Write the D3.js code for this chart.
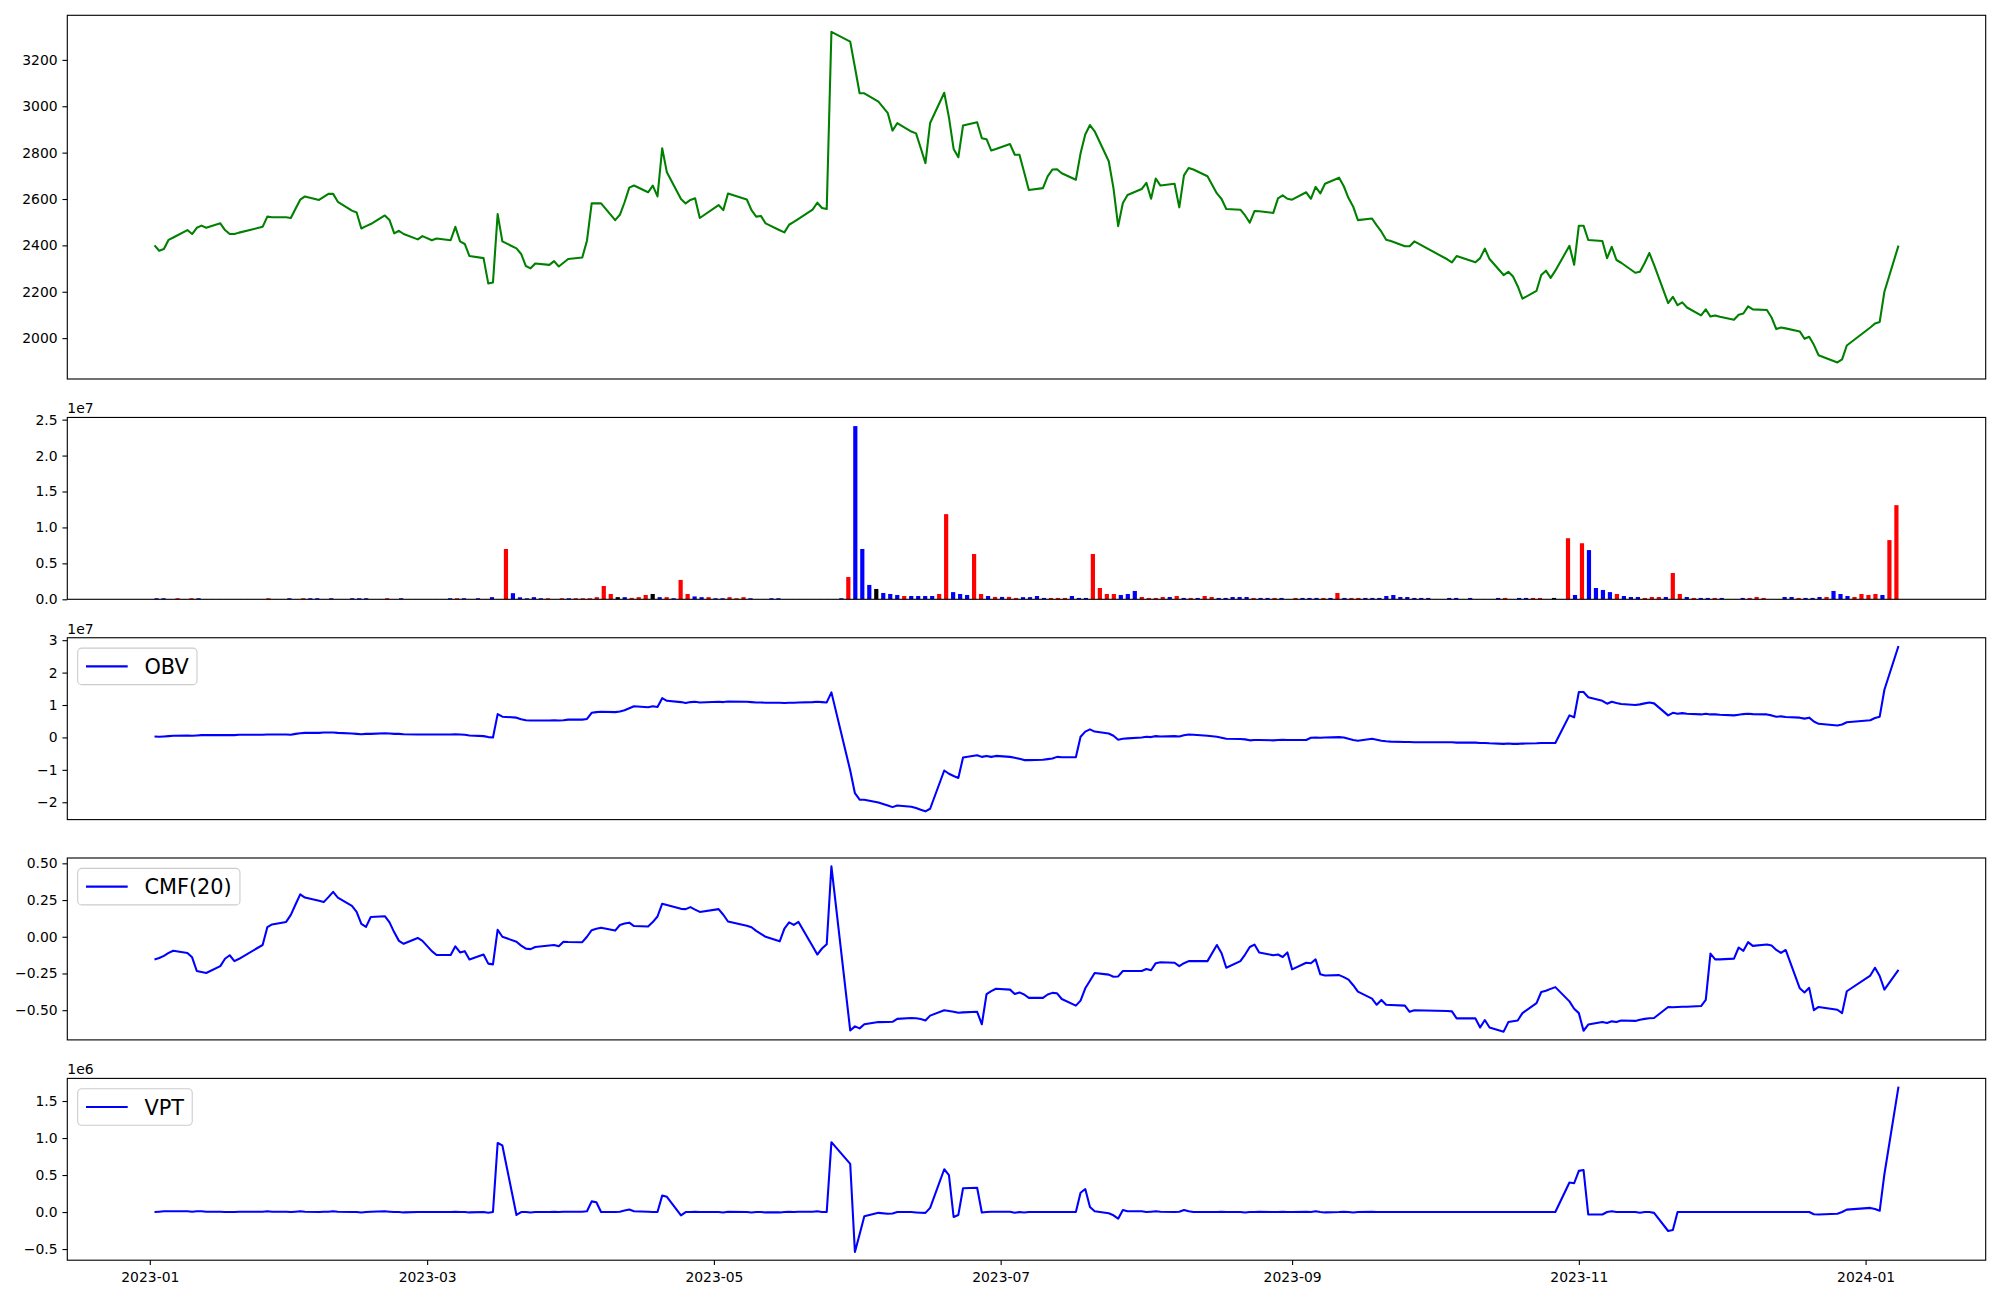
<!DOCTYPE html>
<html><head><meta charset="utf-8">
<script src="https://cdn.jsdelivr.net/npm/d3@7"></script>
<style>body{margin:0;background:#fff}svg{display:block}text{font-family:"DejaVu Sans",sans-serif}</style>
</head><body><svg id="chart" width="2000" height="1300"></svg>
<script>
// ---------------- DATA ----------------
const dates = [
"2023-01-02","2023-01-03","2023-01-04","2023-01-05","2023-01-06","2023-01-09","2023-01-10","2023-01-11","2023-01-12","2023-01-13","2023-01-16","2023-01-17","2023-01-18","2023-01-19","2023-01-20","2023-01-25","2023-01-26","2023-01-27","2023-01-30","2023-01-31",
"2023-02-01","2023-02-02","2023-02-03","2023-02-06","2023-02-07","2023-02-08","2023-02-09","2023-02-10","2023-02-13","2023-02-14","2023-02-15","2023-02-16","2023-02-17","2023-02-20","2023-02-21","2023-02-22","2023-02-23","2023-02-24","2023-02-27","2023-02-28",
"2023-03-02","2023-03-03","2023-03-06","2023-03-07","2023-03-08","2023-03-09","2023-03-10","2023-03-13","2023-03-14","2023-03-15","2023-03-16","2023-03-17","2023-03-20","2023-03-21","2023-03-22","2023-03-23","2023-03-24","2023-03-27","2023-03-28","2023-03-29","2023-03-30","2023-03-31",
"2023-04-03","2023-04-04","2023-04-05","2023-04-06","2023-04-07","2023-04-10","2023-04-11","2023-04-12","2023-04-13","2023-04-14","2023-04-17","2023-04-18","2023-04-19","2023-04-20","2023-04-21","2023-04-24","2023-04-25","2023-04-26","2023-04-27","2023-04-28",
"2023-05-02","2023-05-03","2023-05-04","2023-05-08","2023-05-09","2023-05-10","2023-05-11","2023-05-12","2023-05-15","2023-05-16","2023-05-17","2023-05-18","2023-05-19","2023-05-22","2023-05-23","2023-05-24","2023-05-25","2023-05-26","2023-05-30","2023-05-31",
"2023-06-01","2023-06-02","2023-06-05","2023-06-07","2023-06-08","2023-06-09","2023-06-12","2023-06-13","2023-06-14","2023-06-15","2023-06-16","2023-06-19","2023-06-20","2023-06-21","2023-06-22","2023-06-23","2023-06-26","2023-06-27","2023-06-28","2023-06-29","2023-06-30",
"2023-07-03","2023-07-04","2023-07-05","2023-07-06","2023-07-07","2023-07-10","2023-07-11","2023-07-12","2023-07-13","2023-07-14","2023-07-17","2023-07-18","2023-07-19","2023-07-20","2023-07-21","2023-07-24","2023-07-25","2023-07-26","2023-07-27","2023-07-28","2023-07-31",
"2023-08-01","2023-08-02","2023-08-03","2023-08-04","2023-08-07","2023-08-08","2023-08-09","2023-08-10","2023-08-11","2023-08-14","2023-08-16","2023-08-17","2023-08-18","2023-08-21","2023-08-22","2023-08-23","2023-08-24","2023-08-25","2023-08-28","2023-08-29","2023-08-30","2023-08-31",
"2023-09-01","2023-09-04","2023-09-05","2023-09-06","2023-09-07","2023-09-08","2023-09-11","2023-09-12","2023-09-13","2023-09-14","2023-09-15","2023-09-18","2023-09-19","2023-09-20","2023-09-21","2023-09-22","2023-09-25","2023-09-26","2023-09-27",
"2023-10-04","2023-10-05","2023-10-06","2023-10-10","2023-10-11","2023-10-12","2023-10-13","2023-10-16","2023-10-17","2023-10-18","2023-10-19","2023-10-20","2023-10-23","2023-10-24","2023-10-25","2023-10-26","2023-10-27","2023-10-30","2023-10-31",
"2023-11-01","2023-11-02","2023-11-03","2023-11-06","2023-11-07","2023-11-08","2023-11-09","2023-11-10","2023-11-13","2023-11-14","2023-11-15","2023-11-16","2023-11-17","2023-11-20","2023-11-21","2023-11-22","2023-11-23","2023-11-24","2023-11-27","2023-11-28","2023-11-29","2023-11-30",
"2023-12-01","2023-12-04","2023-12-05","2023-12-06","2023-12-07","2023-12-08","2023-12-11","2023-12-12","2023-12-13","2023-12-14","2023-12-15","2023-12-18","2023-12-19","2023-12-20","2023-12-21","2023-12-22","2023-12-26","2023-12-27","2023-12-28",
"2024-01-02","2024-01-03","2024-01-04","2024-01-05","2024-01-08"];

const closePrice = [
2400,2377,2384,2424,2434,2466,2449,2476,2485,2476,2495,2466,2449,2449,2455,2480,2524,2521,2521,2518,
2558,2597,2611,2596,2609,2622,2622,2588,2550,2542,2473,2483,2492,2529,2509,2452,2463,2449,2426,2440,
2422,2430,2422,2480,2417,2406,2354,2345,2236,2240,2535,2417,2387,2363,2311,2301,2322,2316,2332,2309,2325,2341,
2348,2420,2581,2581,2581,2509,2532,2586,2649,2658,2629,2658,2611,2819,2715,2600,2581,2596,2603,2518,
2574,2552,2624,2598,2552,2524,2527,2495,2465,2456,2489,2501,2514,2554,2584,2561,2557,3321,3279,3168,
3056,3056,3020,2970,2895,2927,2891,2883,2820,2755,2928,3058,2952,2816,2780,2917,2931,2862,2858,2809,2816,
2837,2791,2791,2715,2639,2647,2698,2727,2728,2711,2683,2797,2878,2919,2892,2763,2647,2483,2583,2617,2643,
2670,2601,2688,2658,2666,2564,2702,2734,2727,2698,2624,2600,2557,2554,2529,2498,2548,2547,2540,2603,2616,2601,
2597,2629,2601,2652,2624,2666,2692,2655,2604,2567,2509,2516,2486,2459,2424,2419,2396,2396,2417,
2340,2327,2354,2327,2345,2386,2341,2272,2286,2266,2224,2170,2204,2272,2291,2260,2291,2398,2316,
2485,2485,2423,2419,2345,2394,2337,2325,2282,2286,2324,2367,2316,2151,2178,2142,2154,2132,2098,2124,2093,2098,
2092,2079,2101,2106,2137,2124,2121,2089,2039,2046,2042,2029,1997,2006,1971,1926,1895,1908,1968,
2046,2063,2070,2200,2399];

const volumeMillions = [
0.15,0.15,0.02,0.15,0.02,0.15,0.15,0.02,0.02,0.02,0.02,0.02,0.02,0.02,0.02,0.02,0.15,0.02,0.02,0.15,
0.02,0.15,0.15,0.15,0.02,0.15,0.02,0.02,0.15,0.15,0.15,0.02,0.02,0.15,0.02,0.15,0.02,0.02,0.02,0.02,
0.02,0.02,0.15,0.15,0.15,0.02,0.15,0.02,0.3,0.02,7.0,0.85,0.28,0.14,0.3,0.15,0.15,0.02,0.15,0.15,0.15,0.15,
0.15,0.3,1.85,0.74,0.3,0.3,0.2,0.3,0.6,0.74,0.3,0.3,0.15,2.7,0.74,0.4,0.3,0.3,0.15,0.15,
0.3,0.15,0.3,0.15,0.02,0.02,0.15,0.15,0.02,0.02,0.02,0.02,0.02,0.02,0.02,0.02,0.15,3.1,24.1,7.0,
2.0,1.44,0.88,0.74,0.6,0.46,0.46,0.46,0.46,0.46,0.74,11.85,1.0,0.74,0.6,6.3,0.74,0.46,0.33,0.33,0.33,
0.19,0.3,0.3,0.46,0.19,0.19,0.19,0.19,0.46,0.19,0.19,6.3,1.57,0.74,0.74,0.6,0.74,1.16,0.32,0.19,0.19,
0.32,0.32,0.46,0.19,0.19,0.19,0.46,0.32,0.19,0.19,0.32,0.32,0.32,0.19,0.19,0.19,0.19,0.19,0.02,0.19,0.19,0.19,
0.19,0.19,0.19,0.88,0.19,0.19,0.19,0.19,0.19,0.19,0.46,0.6,0.32,0.32,0.19,0.19,0.19,0.02,0.02,
0.19,0.19,0.02,0.19,0.02,0.02,0.02,0.19,0.19,0.02,0.19,0.19,0.19,0.19,0.02,0.19,0.02,8.5,0.6,
7.8,6.85,1.57,1.3,1.0,0.74,0.46,0.32,0.32,0.19,0.32,0.32,0.32,3.66,0.74,0.32,0.19,0.19,0.19,0.19,0.19,0.02,
0.02,0.19,0.19,0.32,0.19,0.02,0.02,0.32,0.32,0.19,0.19,0.19,0.32,0.32,1.16,0.74,0.46,0.32,0.74,
0.6,0.74,0.6,8.24,13.1];

// 1 = up (red), -1 = down (blue), 0 = unchanged (black)
const barDirection = [
-1,-1,1,1,1,1,-1,1,1,1,1,1,1,1,1,1,1,1,1,-1,
1,1,-1,-1,1,-1,1,1,-1,-1,-1,1,1,1,1,-1,1,1,1,1,
1,1,-1,1,-1,1,-1,1,-1,1,1,-1,-1,-1,-1,-1,1,1,1,-1,1,1,
1,1,1,1,0,-1,1,1,1,0,-1,1,-1,1,1,-1,-1,1,-1,-1,
1,1,1,-1,1,1,-1,-1,1,1,1,1,1,1,1,1,-1,1,-1,-1,
-1,0,-1,-1,-1,1,-1,-1,-1,-1,1,1,-1,-1,-1,1,1,-1,1,-1,1,
1,-1,-1,-1,-1,1,1,1,-1,-1,-1,1,1,1,1,-1,-1,-1,1,1,1,
1,-1,1,-1,1,-1,1,1,-1,-1,-1,-1,-1,1,-1,-1,1,-1,1,1,-1,-1,
-1,1,-1,1,-1,1,1,-1,-1,-1,-1,-1,-1,-1,-1,-1,-1,1,1,
-1,-1,1,-1,1,1,1,-1,1,1,-1,-1,1,1,1,0,1,1,-1,
1,-1,-1,-1,-1,1,-1,-1,-1,1,1,1,-1,1,1,-1,1,-1,-1,1,-1,1,
1,-1,1,1,1,1,1,-1,-1,1,-1,-1,-1,1,-1,-1,-1,1,1,
1,1,-1,1,1];

const obvTenMillions = [
0.03,0.02,0.03,0.04,0.05,0.06,0.05,0.06,0.07,0.07,0.07,0.07,0.07,0.07,0.08,0.08,0.09,0.09,0.09,0.08,
0.11,0.13,0.14,0.14,0.15,0.15,0.15,0.14,0.12,0.11,0.10,0.11,0.11,0.13,0.12,0.11,0.11,0.10,0.09,0.09,
0.09,0.09,0.09,0.10,0.09,0.08,0.06,0.04,0.01,0.0,0.72,0.64,0.61,0.56,0.53,0.52,0.52,0.52,0.53,0.52,0.53,0.55,
0.55,0.57,0.76,0.78,0.79,0.78,0.80,0.84,0.90,0.96,0.93,0.96,0.94,1.21,1.13,1.09,1.06,1.09,1.10,1.08,
1.10,1.09,1.11,1.10,1.09,1.08,1.08,1.07,1.07,1.06,1.07,1.07,1.08,1.09,1.10,1.09,1.08,1.39,-1.02,-1.72,
-1.92,-1.92,-2.01,-2.10,-2.15,-2.10,-2.14,-2.18,-2.23,-2.28,-2.20,-1.02,-1.12,-1.19,-1.25,-0.62,-0.55,-0.60,-0.57,-0.60,-0.57,
-0.60,-0.63,-0.66,-0.70,-0.70,-0.69,-0.67,-0.65,-0.60,-0.61,-0.61,0.02,0.18,0.25,0.18,0.12,0.05,-0.07,-0.04,-0.03,0.0,
0.02,0.01,0.04,0.03,0.04,0.03,0.07,0.09,0.08,0.05,0.02,-0.01,-0.04,-0.05,-0.06,-0.09,-0.08,-0.08,-0.09,-0.08,-0.07,-0.08,
-0.08,-0.08,-0.01,0.0,-0.01,0.0,0.01,0.0,-0.04,-0.08,-0.10,-0.04,-0.07,-0.10,-0.12,-0.13,-0.14,-0.14,-0.15,
-0.15,-0.15,-0.16,-0.16,-0.17,-0.17,-0.18,-0.20,-0.19,-0.20,-0.20,-0.19,-0.18,-0.17,-0.17,-0.17,-0.17,0.68,0.62,
1.40,1.40,1.24,1.13,1.04,1.10,1.06,1.03,1.00,1.02,1.05,1.08,1.05,0.68,0.76,0.73,0.75,0.73,0.71,0.73,0.71,0.71,
0.70,0.68,0.70,0.72,0.73,0.72,0.71,0.68,0.64,0.65,0.63,0.61,0.58,0.61,0.49,0.42,0.37,0.40,0.47,
0.53,0.60,0.64,1.47,2.82];

const cmf20 = [
-0.155,-0.145,-0.13,-0.11,-0.095,-0.11,-0.14,-0.233,-0.24,-0.247,-0.20,-0.15,-0.126,-0.166,-0.15,-0.056,0.065,0.084,0.101,0.149,
0.22,0.289,0.267,0.245,0.236,0.27,0.306,0.267,0.21,0.17,0.087,0.067,0.135,0.14,0.098,0.03,-0.028,-0.048,-0.008,-0.028,
-0.098,-0.124,-0.124,-0.065,-0.107,-0.098,-0.155,-0.121,-0.183,-0.188,0.048,0.0,-0.034,-0.06,-0.081,-0.084,-0.07,-0.06,-0.056,-0.065,-0.034,-0.036,
-0.037,0.0,0.045,0.055,0.062,0.042,0.08,0.09,0.096,0.073,0.07,0.10,0.138,0.225,0.216,0.19,0.188,0.202,0.185,0.169,
0.188,0.15,0.104,0.075,0.065,0.04,0.02,0.0,-0.031,0.056,0.098,0.081,0.101,-0.065,-0.121,-0.08,-0.051,0.48,-0.638,-0.61,
-0.624,-0.596,-0.581,-0.58,-0.579,-0.559,-0.553,-0.555,-0.56,-0.57,-0.537,-0.50,-0.505,-0.51,-0.517,-0.515,-0.511,-0.596,-0.39,-0.37,-0.354,
-0.36,-0.39,-0.379,-0.393,-0.416,-0.416,-0.393,-0.382,-0.385,-0.424,-0.469,-0.435,-0.351,-0.30,-0.247,-0.258,-0.272,-0.27,-0.233,-0.233,-0.233,
-0.219,-0.228,-0.18,-0.174,-0.177,-0.20,-0.18,-0.166,-0.166,-0.166,-0.056,-0.112,-0.211,-0.166,-0.121,-0.07,-0.053,-0.107,-0.126,-0.121,-0.138,-0.107,
-0.222,-0.177,-0.18,-0.154,-0.256,-0.264,-0.261,-0.275,-0.292,-0.33,-0.374,-0.421,-0.463,-0.43,-0.463,-0.465,-0.469,-0.511,-0.50,
-0.505,-0.508,-0.556,-0.556,-0.618,-0.567,-0.618,-0.646,-0.581,-0.575,-0.57,-0.52,-0.452,-0.376,-0.368,-0.355,-0.343,-0.44,-0.49,
-0.52,-0.64,-0.598,-0.581,-0.587,-0.576,-0.581,-0.57,-0.573,-0.565,-0.559,-0.555,-0.553,-0.478,-0.48,-0.478,-0.477,-0.476,-0.472,-0.43,-0.115,-0.154,
-0.154,-0.149,-0.073,-0.096,-0.037,-0.062,-0.053,-0.06,-0.09,-0.11,-0.09,-0.351,-0.379,-0.348,-0.50,-0.478,-0.497,-0.52,-0.371,
-0.264,-0.211,-0.267,-0.36,-0.225];

const vptMillions = [
0.0,0.005,0.01,0.01,0.01,0.01,0.005,0.01,0.01,0.005,0.005,0.0,0.0,0.0,0.005,0.005,0.01,0.005,0.005,0.0,
0.005,0.01,0.005,0.0,0.005,0.005,0.01,0.005,0.0,0.0,-0.005,0.0,0.005,0.01,0.005,0.0,0.0,-0.005,0.0,0.0,
0.0,0.0,0.0,0.005,0.0,0.0,-0.005,0.0,-0.01,0.0,0.933,0.90,-0.039,0.0,0.0,-0.005,0.0,0.0,0.005,0.0,0.005,0.005,
0.005,0.01,0.144,0.133,0.0,0.0,0.005,0.02,0.033,0.01,0.005,0.0,0.0,0.222,0.206,-0.044,0.0,0.0,0.005,0.0,
0.0,-0.005,0.005,0.0,-0.005,0.0,0.0,-0.005,-0.005,0.0,0.005,0.0,0.005,0.005,0.01,0.0,0.0,0.944,0.65,-0.539,
-0.30,-0.056,-0.011,-0.022,-0.02,0.0,0.0,-0.005,-0.01,-0.011,0.056,0.578,0.50,-0.067,-0.039,0.322,0.328,-0.006,0.0,0.005,0.005,
0.005,-0.01,0.0,-0.005,0.0,0.0,0.0,0.0,0.0,0.0,0.0,0.261,0.311,0.067,0.01,-0.017,-0.044,-0.089,0.028,0.01,0.01,
0.0,0.005,0.01,0.005,0.0,0.005,0.028,0.01,0.0,0.0,0.0,0.005,0.0,0.0,-0.005,0.0,0.0,0.005,0.0,0.0,0.005,0.0,
0.0,0.005,0.0,0.01,0.0,-0.005,0.0,0.005,0.0,-0.005,0.0,0.005,0.0,0.0,0.0,0.0,0.0,0.0,0.0,
0.0,0.0,0.0,0.0,0.0,0.0,0.0,0.0,0.0,0.0,0.0,0.0,0.0,0.0,0.0,0.0,0.0,0.40,0.389,
0.556,0.567,-0.033,-0.033,0.0,0.01,0.0,0.0,0.0,-0.01,0.0,0.0,-0.011,-0.256,-0.244,0.0,0.0,0.0,0.0,0.0,0.0,0.0,
0.0,0.0,0.0,0.0,0.0,0.0,0.0,0.0,0.0,0.0,0.0,0.0,0.0,0.0,-0.03,-0.033,-0.022,0.0,0.033,
0.056,0.04,0.017,0.511,1.694];

const priceTicks = [2000,2200,2400,2600,2800,3000,3200];
const volumeTicks = [0,0.5,1.0,1.5,2.0,2.5];     // x 1e7
const obvTicks = [-2,-1,0,1,2,3];                // x 1e7
const cmfTicks = [-0.5,-0.25,0,0.25,0.5];
const vptTicks = [-0.5,0,0.5,1.0,1.5];           // x 1e6
const monthTicks = ["2023-01-01","2023-03-01","2023-05-01","2023-07-01","2023-09-01","2023-11-01","2024-01-01"];

// ---------------- LAYOUT ----------------
const svg = d3.select("#chart");
svg.append("rect").attr("width",2000).attr("height",1300).attr("fill","#fff");
const L = 67.3, R = 1985.7;
const panels = [
  {top:15.3,  bottom:379},
  {top:417.45,bottom:599.3},
  {top:637.75,bottom:819.6},
  {top:858,   bottom:1039.9},
  {top:1078.4,bottom:1260.2}];
const FS = 13.9, TICK = 4.86, LW = 2.08;
const parse = d3.utcParse("%Y-%m-%d");
const t = dates.map(parse);

const t0 = t[0].getTime(), t1 = t[t.length-1].getTime(), span = t1 - t0;
const x = d3.scaleUtc().domain([new Date(t0 - 0.05*span), new Date(t1 + 0.05*span)]).range([L, R]);

const n = dates.length, bw = 0.6;
const bspan = (n - 1) + bw;
const xi = d3.scaleLinear().domain([-bw/2 - 0.05*bspan, n - 1 + bw/2 + 0.05*bspan]).range([L, R]);

function padded(vals){ const [a,b] = d3.extent(vals); const r = b - a; return [a - 0.05*r, b + 0.05*r]; }

function yAxis(p, y, ticks, fmt){
  const g = svg.append("g").attr("transform", `translate(${L},0)`)
    .call(d3.axisLeft(y).tickValues(ticks).tickFormat(fmt).tickSize(TICK).tickPadding(4.86));
  g.select(".domain").remove();
  g.selectAll(".tick line").attr("stroke","#000").attr("stroke-width",1.11);
  g.selectAll("text").attr("font-size",FS).attr("font-family","DejaVu Sans").attr("fill","#000");
}
function frame(p){
  svg.append("rect").attr("x",L).attr("y",p.top).attr("width",R-L).attr("height",p.bottom-p.top)
    .attr("fill","none").attr("stroke","#000").attr("stroke-width",1.11);
}
function offsetText(p, s){
  svg.append("text").attr("x",L).attr("y",p.top-4).attr("font-size",FS).text(s);
}
function legend(p, label){
  const fs = 20.83, bx = L + 10.4, by = p.top + 10.4, h = 36.5;
  const g = svg.append("g");
  const rect = g.append("rect").attr("x",bx).attr("y",by).attr("height",h).attr("rx",4)
    .attr("fill","#fff").attr("fill-opacity",0.8).attr("stroke","#cccccc").attr("stroke-width",1.1);
  g.append("line").attr("x1",bx+8.3).attr("x2",bx+8.3+41.7).attr("y1",by+h/2).attr("y2",by+h/2)
    .attr("stroke","blue").attr("stroke-width",LW);
  const tx = g.append("text").attr("x",bx+8.3+41.7+16.7).attr("y",by+h/2).attr("dy","0.36em")
    .attr("font-size",fs).text(label);
  const w = tx.node().getComputedTextLength();
  rect.attr("width", 8.3+41.7+16.7+w+8.3);
}
function linePanel(p, vals, color, domain){
  const y = d3.scaleLinear().domain(domain).range([p.bottom, p.top]);
  svg.append("path").datum(vals)
    .attr("d", d3.line().x((d,i)=>x(t[i])).y(d=>y(d)))
    .attr("fill","none").attr("stroke",color).attr("stroke-width",LW)
    .attr("stroke-linejoin","round");
  return y;
}

// Panel 1: close price
{
  const p = panels[0];
  const y = linePanel(p, closePrice, "green", padded(closePrice));
  yAxis(p, y, priceTicks, d3.format("d"));
  frame(p);
}
// Panel 2: volume bars
{
  const p = panels[1];
  const vol = volumeMillions.map(v => v*1e6);
  const y = d3.scaleLinear().domain([0, d3.max(vol)*1.05]).range([p.bottom, p.top]);
  const colorOf = d => d > 0 ? "red" : (d < 0 ? "blue" : "black");
  svg.append("g").selectAll("rect").data(vol).join("rect")
    .attr("x",(d,i)=>xi(i - bw/2)).attr("width", xi(bw) - xi(0))
    .attr("y",d=>y(d)).attr("height",d=>p.bottom - y(d))
    .attr("fill",(d,i)=>colorOf(barDirection[i]));
  yAxis(p, y, volumeTicks.map(v=>v*1e7), d=>d3.format(".1f")(d/1e7));
  offsetText(p, "1e7");
  frame(p);
}
// Panel 3: OBV
{
  const p = panels[2];
  const vals = obvTenMillions.map(v=>v*1e7);
  const y = linePanel(p, vals, "blue", padded(vals));
  yAxis(p, y, obvTicks.map(v=>v*1e7), d=>d3.format("d")(d/1e7));
  offsetText(p, "1e7");
  frame(p);
  legend(p, "OBV");
}
// Panel 4: CMF
{
  const p = panels[3];
  const y = linePanel(p, cmf20, "blue", padded(cmf20));
  yAxis(p, y, cmfTicks, d3.format(".2f"));
  frame(p);
  legend(p, "CMF(20)");
}
// Panel 5: VPT
{
  const p = panels[4];
  const vals = vptMillions.map(v=>v*1e6);
  const y = linePanel(p, vals, "blue", padded(vals));
  yAxis(p, y, vptTicks.map(v=>v*1e6), d=>d3.format(".1f")(d/1e6));
  offsetText(p, "1e6");
  frame(p);
  legend(p, "VPT");
  const g = svg.append("g").attr("transform",`translate(0,${p.bottom})`)
    .call(d3.axisBottom(x).tickValues(monthTicks.map(parse)).tickFormat(d3.utcFormat("%Y-%m")).tickSize(TICK).tickPadding(4.86));
  g.select(".domain").remove();
  g.selectAll(".tick line").attr("stroke","#000").attr("stroke-width",1.11);
  g.selectAll("text").attr("font-size",FS).attr("font-family","DejaVu Sans").attr("fill","#000").attr("dy","0.85em");
}
</script></body></html>
